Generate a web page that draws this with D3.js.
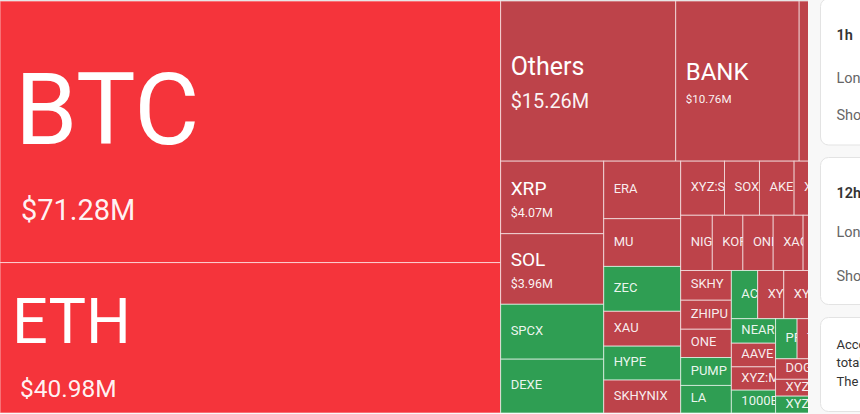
<!DOCTYPE html>
<html>
<head>
<meta charset="utf-8">
<script src="https://cdn.jsdelivr.net/npm/d3@7"></script>
<style>
  html, body { margin: 0; padding: 0; width: 860px; height: 414px; overflow: hidden; background: #f8f8f8; }
  #chart { position: absolute; left: 0; top: 0; }
  #panel { position: absolute; left: 0; top: 0; }
  text { font-family: Roboto, "Noto Sans", sans-serif; }
</style>
</head>
<body>
<svg id="chart" width="808" height="414"></svg>
<svg id="panel" width="860" height="414"></svg>
<script>
// ---- data (liquidation totals, $M) ----
const names = ["BTC","ETH","Others","BANK","ENA","XRP","SOL","SPCX","DEXE","ERA","MU","ZEC","XAU","HYPE","SKHYNIX",
  "XYZ:SILVER","SOX","AKE","XPL","ASTER","NIGHT","KOR","ONDO","XAG","TAO","SUI","SKHY","ZHIPU","ONE","PUMP","LA",
  "ACE","XYZ:TSLA","XYZ:NVDA","WLD","LINK","NEAR","AAVE","XYZ:MSTR","1000BONK","PRIME","TRUMP","ADA","AVAX",
  "DOGE","XYZ:AMD","XYZ:AAPL","BNB","TON","OP","ARB"];
const values = [71.28,40.98,15.26,10.76,5.39,4.07,3.96,3.08,3.02,2.41,2.00,1.88,1.46,1.42,1.38,
  1.29,1.03,1.02,1.00,0.97,0.95,0.92,0.91,0.90,0.88,0.86,0.82,0.80,0.78,0.77,0.76,
  0.69,0.685,0.68,0.675,0.67,0.59,0.57,0.56,0.55,0.47,0.47,0.465,0.46,
  0.45,0.37,0.37,0.36,0.34,0.33,0.30];
// 2 = heavy long liquidations, 1 = long liquidations dominate, -1 = short liquidations dominate
const sides = [2,2,1,1,1,1,1,-1,-1,1,1,-1,1,-1,1,
  1,1,1,1,1,1,1,1,1,1,1,1,1,1,-1,-1,
  -1,1,1,1,1,-1,1,1,-1,-1,1,1,1,
  1,1,-1,1,1,1,1];

const panelTitles = ["1h", "12h"];
const panelRows = ["Long", "Short"];
const noteLines = ["According to the data, in the past 24 hours",
                   "total liquidations across the market reached",
                   "The largest single liquidation order happened"];

// ---- treemap ----
const W = 861, H = 412, TOP = 1;
const color = d3.scaleOrdinal().domain([2, 1, -1]).range(["#f5343b", "#bd434a", "#2f9e53"]);
const fmt = v => "$" + d3.format(".2f")(v) + "M";

const root = d3.hierarchy({children: names.map((n, i) => ({name: n, value: values[i], side: sides[i]}))})
  .sum(d => d.value || 0)
  .sort((a, b) => b.value - a.value);
d3.treemap().tile(d3.treemapSquarify).size([W, H]).round(false)(root);

const svg = d3.select("#chart");
svg.append("rect").attr("x", 0).attr("y", 0).attr("width", 808).attr("height", 1).attr("fill", "#dcdcdc");
const g = svg.append("g").attr("transform", `translate(0,${TOP})`);

const nameSize = d3.scaleLinear().domain([3.5, 3.9, 10.7, 15.3, 41, 71.3]).range([13, 19, 24, 25, 63, 100]).clamp(true);
const valueSize = d3.scaleLinear().domain([3.9, 10.7, 15.3, 41, 71.3]).range([12.5, 11.5, 20, 24.5, 29]).clamp(true);
const blockShift = d3.scaleLinear().domain([19, 25, 63, 100]).range([1.5, 1.5, 10, 14.5]).clamp(true);
const valueIndent = d3.scaleLinear().domain([20, 25]).range([0, 11]).clamp(true);
const nameIndent = d3.scaleLinear().domain([25, 63, 100]).range([0, 2, 5]).clamp(true);
const CAP = 0.711;

const leaves = root.leaves();
const cell = g.selectAll("g.cell").data(leaves).join("g").attr("class", "cell");

cell.append("clipPath").attr("id", (d, i) => "clip" + i)
  .append("rect")
  .attr("x", d => d.x0).attr("y", d => d.y0)
  .attr("width", d => d.x1 - d.x0).attr("height", d => d.y1 - d.y0);

cell.append("rect")
  .attr("x", d => d.x0).attr("y", d => d.y0)
  .attr("width", d => d.x1 - d.x0).attr("height", d => d.y1 - d.y0)
  .attr("fill", d => color(d.data.side))
  .attr("stroke", "rgba(255,255,255,0.6)")
  .attr("stroke-width", 1);

cell.each(function (d, i) {
  const sel = d3.select(this).append("g").attr("clip-path", `url(#clip${i})`);
  const v = d.data.value;
  const cy = (d.y0 + d.y1) / 2;
  const pad = 10;
  if (v >= 3.5) {
    const ns = nameSize(v), vs = valueSize(v);
    const gap = 0.45 * ns + 0.35 * vs;
    const blockH = CAP * ns + gap + CAP * vs;
    const top = cy - blockH / 2 + blockShift(ns);
    sel.append("text")
      .attr("x", d.x0 + pad + nameIndent(ns)).attr("y", top + CAP * ns)
      .attr("font-size", ns).attr("fill", "#fff")
      .text(d.data.name);
    sel.append("text")
      .attr("x", d.x0 + pad + valueIndent(vs)).attr("y", top + blockH)
      .attr("font-size", vs).attr("fill", "#fff").attr("fill-opacity", 0.95)
      .text(fmt(v));
  } else {
    const ns = nameSize(v);
    sel.append("text")
      .attr("x", d.x0 + pad).attr("y", cy + CAP * ns / 2 - 1.5)
      .attr("font-size", ns).attr("fill", "#fff").attr("fill-opacity", 0.92)
      .text(d.data.name);
  }
});

// ---- right side panel ----
const p = d3.select("#panel");
const cards = [{y: -1.5, h: 146.5}, {y: 157.5, h: 147}, {y: 317.5, h: 94}];
p.selectAll("rect.card").data(cards).join("rect").attr("class", "card")
  .attr("x", 820.5).attr("y", d => d.y).attr("width", 200).attr("height", d => d.h)
  .attr("rx", 8).attr("fill", "#fff").attr("stroke", "#e3e3e3");

const titleY = [40, 198];
const rowY = [[82.5, 120], [237, 280.5]];
panelTitles.forEach((t, i) => {
  p.append("text").attr("x", 836.5).attr("y", titleY[i]).attr("font-size", 14.5)
    .attr("font-weight", 600).attr("fill", "#333").text(t);
  panelRows.forEach((r, j) => {
    p.append("text").attr("x", 836.5).attr("y", rowY[i][j]).attr("font-size", 14.5)
      .attr("fill", "#666").text(r);
  });
});
noteLines.forEach((l, i) => {
  p.append("text").attr("x", 836.5).attr("y", 348.5 + i * 18.8).attr("font-size", 13)
    .attr("fill", "#333").text(l);
});
</script>
</body>
</html>
